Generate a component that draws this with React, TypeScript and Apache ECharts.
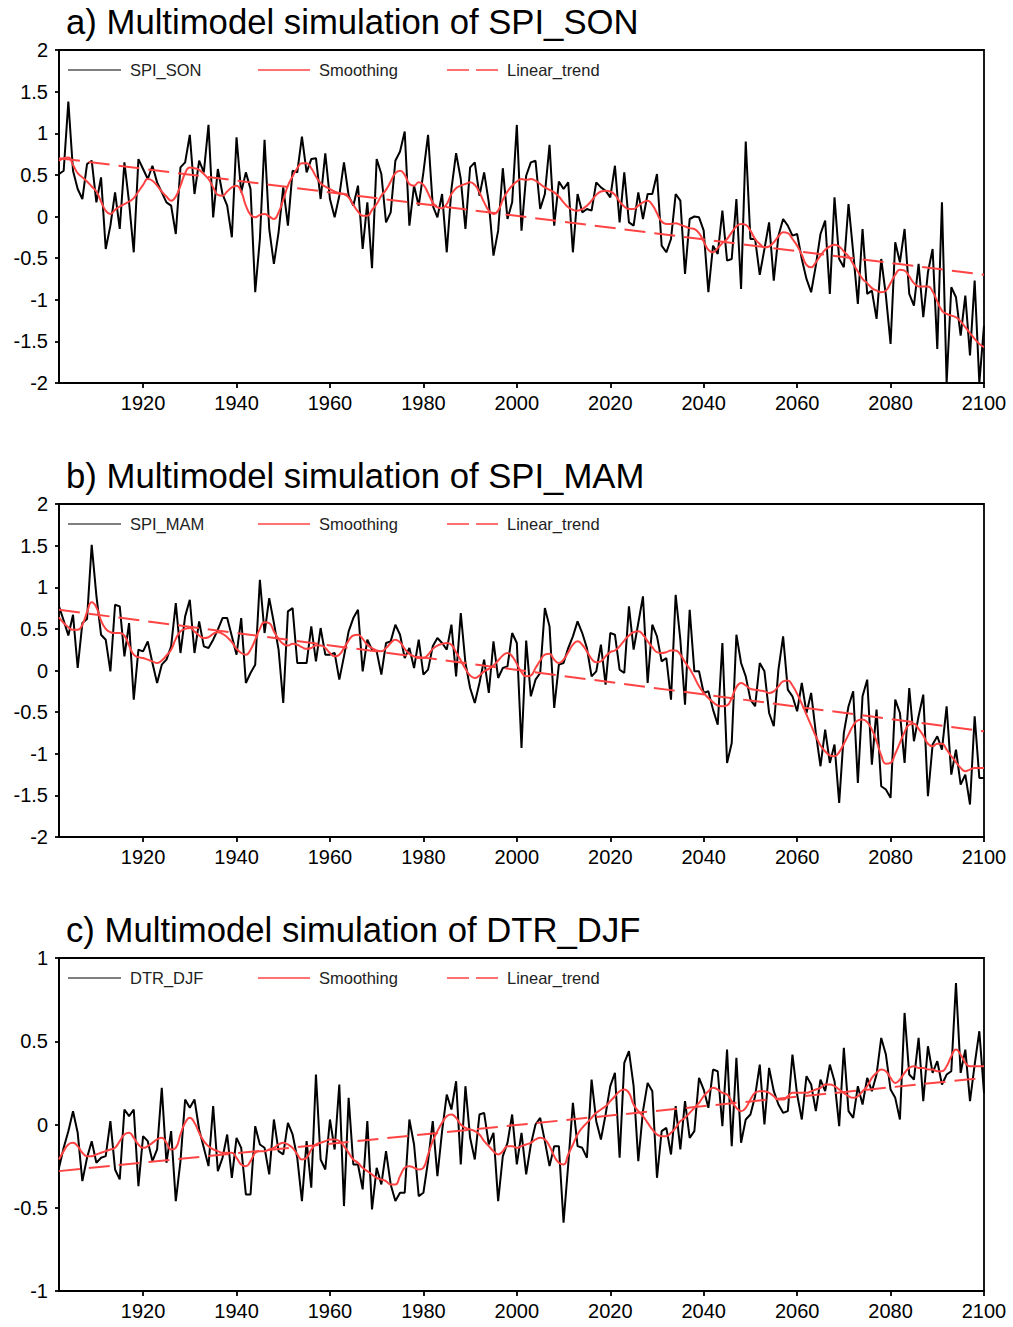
import React, { useEffect, useRef } from "react";
import * as echarts from "echarts";

const START_YEAR = 1902;
const END_YEAR = 2100;
const years: number[] = [];
for (let y = START_YEAR; y <= END_YEAR; y++) years.push(y);

const xTickYears = [1920, 1940, 1960, 1980, 2000, 2020, 2040, 2060, 2080, 2100];

// ---- a) SPI_SON ----
const spiSon = [
  0.51, 0.55, 1.38, 0.55, 0.33, 0.21, 0.63, 0.67,
  0.17, 0.47, -0.39, -0.11, 0.29, -0.15, 0.65, 0.17, -0.43, 0.69,
  0.57, 0.45, 0.61, 0.41, 0.29, 0.17, 0.13, -0.21, 0.59, 0.65,
  0.98, 0.27, 0.67, 0.53, 1.10, -0.01, 0.57, 0.27, 0.13, -0.25,
  0.95, 0.29, 0.53, 0.33, -0.91, -0.27, 0.92, -0.15, -0.57, -0.19,
  0.35, -0.11, 0.55, 0.53, 0.96, 0.53, 0.69, 0.70, 0.21, 0.76,
  0.21, -0.01, 0.25, 0.65, 0.25, 0.13, 0.37, -0.39, 0.17, -0.62,
  0.69, 0.51, -0.07, 0.05, 0.67, 0.78, 1.02, -0.11, 0.37, 0.13,
  0.53, 0.98, 0.13, -0.01, 0.27, -0.43, 0.33, 0.76, 0.45, -0.15,
  0.59, 0.65, 0.25, 0.53, 0.17, -0.47, -0.17, 0.58, -0.03, 0.17,
  1.10, -0.17, 0.49, 0.65, 0.67, 0.09, 0.27, 0.86, -0.11, 0.42,
  0.33, 0.41, -0.43, 0.27, 0.05, 0.09, 0.07, 0.41, 0.35, 0.31,
  0.23, 0.61, -0.07, 0.53, -0.07, -0.11, 0.29, -0.03, 0.27, 0.27,
  0.51, -0.35, -0.43, -0.27, 0.27, 0.19, -0.69, -0.03, 0.00, -0.01,
  -0.17, -0.91, -0.35, -0.45, 0.07, -0.53, -0.51, 0.21, -0.87, 0.90,
  -0.27, -0.27, -0.70, -0.39, -0.07, -0.77, -0.23, -0.03, -0.11, -0.23,
  -0.21, -0.51, -0.75, -0.91, -0.59, -0.21, -0.05, -0.93, 0.23, -0.51,
  -0.61, 0.15, -0.43, -1.05, -0.15, -0.93, -0.89, -1.23, -0.51, -0.95,
  -1.53, -0.31, -0.55, -0.15, -0.93, -1.07, -0.57, -1.21, -0.67, -0.39,
  -1.59, 0.17, -2.0, -0.85, -0.97, -1.43, -0.95, -1.67, -0.77, -2.0,
  -1.31,
];
const spiSonSmooth = [
  0.67, 0.70, 0.71, 0.62, 0.52, 0.47, 0.42, 0.36,
  0.30, 0.18, 0.07, 0.03, 0.08, 0.12, 0.15, 0.18, 0.22, 0.30,
  0.38, 0.45, 0.43, 0.37, 0.30, 0.24, 0.19, 0.24, 0.37, 0.52,
  0.59, 0.58, 0.56, 0.51, 0.45, 0.35, 0.26, 0.25, 0.30, 0.35,
  0.37, 0.30, 0.13, 0.02, -0.01, 0.02, 0.03, 0.00, -0.03, 0.05,
  0.20, 0.37, 0.48, 0.58, 0.64, 0.64, 0.58, 0.48, 0.40, 0.36,
  0.33, 0.30, 0.28, 0.27, 0.23, 0.14, 0.06, 0.01, 0.01, 0.08,
  0.15, 0.25, 0.32, 0.42, 0.52, 0.55, 0.50, 0.39, 0.37, 0.41,
  0.38, 0.28, 0.17, 0.11, 0.10, 0.15, 0.27, 0.34, 0.37, 0.39,
  0.41, 0.38, 0.29, 0.17, 0.07, 0.03, 0.07, 0.20, 0.30, 0.37,
  0.42, 0.45, 0.44, 0.45, 0.43, 0.39, 0.35, 0.32, 0.29, 0.24,
  0.17, 0.11, 0.08, 0.07, 0.09, 0.13, 0.19, 0.26, 0.30, 0.31,
  0.30, 0.26, 0.18, 0.12, 0.09, 0.09, 0.13, 0.17, 0.19, 0.14,
  0.04, -0.06, -0.09, -0.09, -0.08, -0.10, -0.12, -0.14, -0.15, -0.20,
  -0.30, -0.40, -0.43, -0.38, -0.32, -0.27, -0.19, -0.12, -0.09, -0.10,
  -0.17, -0.27, -0.33, -0.37, -0.36, -0.31, -0.24, -0.19, -0.20, -0.27,
  -0.35, -0.46, -0.58, -0.61, -0.55, -0.47, -0.40, -0.36, -0.34, -0.36,
  -0.42, -0.48, -0.57, -0.66, -0.75, -0.80, -0.86, -0.89, -0.91, -0.89,
  -0.80, -0.70, -0.64, -0.65, -0.72, -0.80, -0.84, -0.84, -0.84, -0.90,
  -1.02, -1.13, -1.17, -1.19, -1.21, -1.26, -1.33, -1.40, -1.47, -1.53,
  -1.57,
];
const spiSonTrend = [0.70, -0.70];

// ---- b) SPI_MAM ----
const spiMam = [
  0.77, 0.60, 0.42, 0.67, 0.03, 0.57, 0.62, 1.51,
  0.90, 0.43, 0.37, -0.01, 0.79, 0.77, 0.17, 0.57, -0.35, 0.25,
  0.23, 0.35, 0.09, -0.15, 0.07, 0.13, 0.29, 0.81, 0.21, 0.65,
  0.85, 0.21, 0.59, 0.29, 0.27, 0.37, 0.49, 0.63, 0.63, 0.41,
  0.19, 0.63, -0.15, -0.03, 0.07, 1.09, 0.45, 0.87, 0.57, 0.25,
  -0.39, 0.71, 0.75, 0.09, 0.09, 0.09, 0.53, 0.11, 0.51, 0.19,
  0.19, 0.21, -0.11, 0.17, 0.47, 0.63, 0.73, -0.01, 0.37, 0.25,
  0.23, -0.05, 0.33, 0.35, 0.55, 0.43, 0.15, 0.27, 0.03, 0.37,
  -0.05, 0.01, 0.29, 0.39, 0.33, 0.25, 0.55, -0.07, 0.69, 0.09,
  -0.21, -0.39, -0.15, 0.13, -0.27, 0.35, -0.09, 0.03, 0.05, 0.45,
  0.33, -0.93, 0.36, -0.31, -0.11, -0.03, 0.75, 0.53, -0.45, 0.07,
  0.09, 0.27, 0.41, 0.59, 0.45, 0.27, -0.07, -0.01, 0.31, -0.17,
  0.45, 0.43, 0.01, -0.03, 0.77, 0.25, 0.57, 0.89, -0.15, 0.55,
  0.41, 0.11, 0.15, -0.35, 0.91, 0.37, -0.41, 0.73, -0.01, -0.01,
  -0.27, -0.25, -0.47, -0.65, 0.33, -1.11, -0.87, 0.43, 0.09, -0.07,
  -0.35, -0.43, 0.09, -0.01, -0.51, -0.67, 0.01, 0.41, -0.23, -0.31,
  -0.49, -0.15, -0.51, -0.27, -0.75, -1.15, -0.71, -1.11, -0.89, -1.59,
  -0.75, -0.43, -0.25, -1.35, -0.31, -0.11, -1.13, -0.47, -1.39, -1.43,
  -1.53, -0.35, -0.51, -1.11, -0.21, -0.85, -0.55, -0.29, -1.51, -0.89,
  -0.79, -0.95, -0.43, -1.25, -0.95, -1.37, -1.25, -1.61, -0.55, -1.29,
  -1.29,
];
const spiMamSmooth = [
  0.64, 0.57, 0.52, 0.49, 0.49, 0.55, 0.70, 0.82,
  0.76, 0.60, 0.50, 0.46, 0.45, 0.45, 0.42, 0.30, 0.19, 0.16,
  0.15, 0.13, 0.11, 0.09, 0.12, 0.18, 0.25, 0.38, 0.47, 0.50,
  0.51, 0.47, 0.42, 0.39, 0.40, 0.44, 0.46, 0.44, 0.40, 0.34,
  0.26, 0.21, 0.19, 0.25, 0.37, 0.50, 0.58, 0.57, 0.47, 0.38,
  0.32, 0.30, 0.32, 0.31, 0.28, 0.26, 0.27, 0.30, 0.30, 0.27,
  0.21, 0.17, 0.19, 0.27, 0.36, 0.42, 0.43, 0.38, 0.31, 0.27,
  0.24, 0.23, 0.27, 0.33, 0.37, 0.34, 0.26, 0.20, 0.17, 0.15,
  0.15, 0.19, 0.26, 0.30, 0.32, 0.33, 0.31, 0.22, 0.12, 0.02,
  -0.06, -0.09, -0.06, -0.01, 0.02, 0.06, 0.12, 0.18, 0.21, 0.17,
  0.08, -0.02, -0.07, -0.06, 0.03, 0.12, 0.19, 0.20, 0.13, 0.09,
  0.13, 0.22, 0.31, 0.35, 0.31, 0.23, 0.14, 0.10, 0.11, 0.17,
  0.22, 0.24, 0.29, 0.36, 0.42, 0.46, 0.47, 0.43, 0.35, 0.28,
  0.22, 0.21, 0.22, 0.24, 0.24, 0.19, 0.10, 0.02, -0.08, -0.19,
  -0.27, -0.33, -0.38, -0.42, -0.43, -0.42, -0.33, -0.20, -0.15, -0.18,
  -0.22, -0.23, -0.24, -0.25, -0.27, -0.25, -0.19, -0.13, -0.12, -0.18,
  -0.28, -0.40, -0.53, -0.66, -0.79, -0.90, -0.97, -1.02, -1.03, -0.98,
  -0.88, -0.77, -0.66, -0.60, -0.59, -0.62, -0.71, -0.85, -1.02, -1.12,
  -1.11, -1.00, -0.87, -0.74, -0.65, -0.64, -0.70, -0.78, -0.88, -0.91,
  -0.88, -0.88, -0.95, -1.03, -1.10, -1.17, -1.21, -1.19, -1.17, -1.17,
  -1.17,
];
const spiMamTrend = [0.73, -0.73];

// ---- c) DTR_DJF ----
const dtrDjf = [
  -0.26, -0.14, -0.04, 0.08, -0.05, -0.34, -0.20, -0.10,
  -0.23, -0.20, -0.19, 0.02, -0.27, -0.33, 0.09, 0.05, 0.09, -0.37,
  -0.07, -0.10, -0.22, -0.15, 0.22, -0.23, -0.04, -0.46, -0.22, 0.15,
  0.10, 0.15, -0.03, -0.14, -0.25, 0.11, -0.28, -0.20, -0.06, -0.32,
  -0.08, -0.14, -0.42, -0.42, -0.01, -0.12, -0.14, -0.30, 0.03, -0.16,
  -0.18, 0.01, -0.06, -0.20, -0.46, -0.10, -0.38, 0.30, -0.21, -0.27,
  0.03, -0.15, 0.24, -0.49, 0.16, -0.24, -0.24, -0.39, 0.02, -0.51,
  -0.26, -0.36, -0.16, -0.36, -0.46, -0.41, -0.41, 0.03, -0.12, -0.43,
  -0.41, -0.22, 0.02, -0.31, -0.04, 0.18, 0.09, 0.26, -0.24, 0.23,
  -0.08, -0.21, 0.06, 0.07, -0.12, -0.05, -0.46, -0.19, -0.11, 0.06,
  -0.24, -0.05, -0.30, -0.12, 0.00, 0.04, -0.10, -0.25, -0.13, -0.13,
  -0.59, -0.24, 0.13, -0.13, -0.14, -0.20, 0.27, 0.02, -0.09, 0.06,
  0.23, 0.31, -0.20, 0.37, 0.44, 0.23, -0.22, 0.08, 0.25, 0.20,
  -0.32, -0.04, -0.02, -0.18, 0.11, -0.15, 0.14, -0.08, -0.04, 0.28,
  0.21, 0.10, 0.33, 0.32, -0.01, 0.45, -0.13, 0.40, -0.11, 0.03,
  0.06, 0.17, 0.36, 0.00, 0.34, 0.20, 0.12, 0.07, 0.08, 0.42,
  0.18, 0.03, 0.29, 0.24, 0.08, 0.27, 0.20, 0.36, 0.26, -0.01,
  0.46, 0.08, 0.04, 0.23, 0.12, 0.28, 0.20, 0.30, 0.52, 0.42,
  0.21, 0.16, 0.03, 0.67, 0.30, 0.27, 0.52, 0.14, 0.47, 0.31,
  0.38, 0.24, 0.30, 0.32, 0.85, 0.31, 0.45, 0.14, 0.36, 0.56,
  0.19,
];
const dtrDjfSmooth = [
  -0.21, -0.16, -0.12, -0.11, -0.13, -0.17, -0.19, -0.19,
  -0.18, -0.17, -0.16, -0.15, -0.14, -0.10, -0.06, -0.05, -0.08, -0.12,
  -0.14, -0.13, -0.11, -0.09, -0.08, -0.11, -0.15, -0.14, -0.06, 0.01,
  0.04, 0.01, -0.05, -0.10, -0.13, -0.15, -0.16, -0.17, -0.17, -0.17,
  -0.20, -0.24, -0.25, -0.22, -0.17, -0.16, -0.16, -0.15, -0.14, -0.12,
  -0.11, -0.12, -0.14, -0.18, -0.21, -0.20, -0.15, -0.12, -0.11, -0.10,
  -0.09, -0.09, -0.10, -0.13, -0.17, -0.21, -0.23, -0.26, -0.28, -0.30,
  -0.32, -0.33, -0.34, -0.36, -0.36, -0.31, -0.26, -0.25, -0.26, -0.27,
  -0.26, -0.18, -0.10, -0.04, 0.01, 0.05, 0.06, 0.04, 0.00, -0.02,
  -0.03, -0.04, -0.06, -0.10, -0.13, -0.16, -0.18, -0.16, -0.13, -0.13,
  -0.14, -0.13, -0.12, -0.11, -0.09, -0.08, -0.09, -0.13, -0.19, -0.23,
  -0.24, -0.18, -0.12, -0.06, -0.02, 0.01, 0.04, 0.07, 0.09, 0.11,
  0.14, 0.17, 0.20, 0.21, 0.19, 0.12, 0.08, 0.05, 0.01, -0.03,
  -0.06, -0.07, -0.07, -0.05, -0.02, 0.02, 0.04, 0.07, 0.10, 0.13,
  0.17, 0.20, 0.22, 0.21, 0.19, 0.18, 0.14, 0.10, 0.08, 0.10,
  0.15, 0.19, 0.20, 0.20, 0.19, 0.17, 0.15, 0.15, 0.17, 0.19,
  0.19, 0.19, 0.19, 0.20, 0.21, 0.22, 0.24, 0.24, 0.23, 0.21,
  0.19, 0.17, 0.16, 0.17, 0.20, 0.23, 0.28, 0.31, 0.33, 0.32,
  0.28, 0.25, 0.27, 0.31, 0.34, 0.35, 0.34, 0.34, 0.33, 0.33,
  0.32, 0.32, 0.35, 0.41, 0.45, 0.42, 0.37, 0.35, 0.35, 0.35,
  0.35,
];
const dtrDjfTrend = [-0.28, 0.28];

const panels = [
  { title: "a) Multimodel simulation of SPI_SON", name: "SPI_SON", raw: spiSon, smooth: spiSonSmooth, trend: spiSonTrend, yMin: -2, yMax: 2 },
  { title: "b) Multimodel simulation of SPI_MAM", name: "SPI_MAM", raw: spiMam, smooth: spiMamSmooth, trend: spiMamTrend, yMin: -2, yMax: 2 },
  { title: "c) Multimodel simulation of DTR_DJF", name: "DTR_DJF", raw: dtrDjf, smooth: dtrDjfSmooth, trend: dtrDjfTrend, yMin: -1, yMax: 1 },
];

const FONT = "'Liberation Sans', Arial, Helvetica, sans-serif";
const RED = "#ff4343";
const GRID_LEFT = 59;
const GRID_WIDTH = 925;
const GRID_TOPS = [50, 504, 958];
const GRID_HEIGHT = 333;

export default function App() {
  const ref = useRef<HTMLDivElement>(null);

  useEffect(() => {
    if (!ref.current) return;
    const chart = echarts.init(ref.current, undefined, { renderer: "svg" });

    const axisLineStyle = { color: "#000", width: 1.8 };

    const option: any = {
      animation: false,
      backgroundColor: "#fff",
      title: panels.map((p, i) => ({
        text: p.title,
        left: 66,
        top: GRID_TOPS[i] - 47,
        padding: 0,
        textStyle: { fontSize: 34.7, fontWeight: "normal", color: "#000", fontFamily: FONT, lineHeight: 38 },
      })),
      grid: panels.map((_, i) => ({
        left: GRID_LEFT,
        top: GRID_TOPS[i],
        width: GRID_WIDTH,
        height: GRID_HEIGHT,
        show: true,
        borderColor: "#000",
        borderWidth: 1.8,
        backgroundColor: "transparent",
      })),
      xAxis: panels.map((_, i) => ({
        type: "value",
        gridIndex: i,
        min: START_YEAR,
        max: END_YEAR,
        axisLine: { show: true, onZero: false, lineStyle: axisLineStyle },
        axisTick: { show: true, inside: false, length: 5, customValues: xTickYears, lineStyle: axisLineStyle },
        axisLabel: {
          customValues: xTickYears,
          fontSize: 20,
          color: "#000",
          margin: 10,
          fontFamily: FONT,
          formatter: (v: number) => String(Math.round(v)),
        },
        splitLine: { show: false },
      })),
      yAxis: panels.map((p, i) => ({
        type: "value",
        gridIndex: i,
        min: p.yMin,
        max: p.yMax,
        interval: 0.5,
        axisLine: { show: true, onZero: false, lineStyle: axisLineStyle },
        axisTick: { show: true, inside: false, length: 4, lineStyle: axisLineStyle },
        axisLabel: { fontSize: 20, color: "#000", margin: 11, fontFamily: FONT, formatter: (v: number) => String(v) },
        splitLine: { show: false },
      })),
      series: panels.flatMap((p, i) => [
        {
          name: p.name,
          type: "line",
          xAxisIndex: i,
          yAxisIndex: i,
          data: years.map((y, k) => [y, p.raw[k]]),
          showSymbol: false,
          lineStyle: { color: "#000", width: 2 },
          z: 2,
        },
        {
          name: "Smoothing",
          type: "line",
          xAxisIndex: i,
          yAxisIndex: i,
          data: years.map((y, k) => [y, p.smooth[k]]),
          showSymbol: false,
          smooth: true,
          lineStyle: { color: RED, width: 2 },
          z: 3,
        },
        {
          name: "Linear_trend",
          type: "line",
          xAxisIndex: i,
          yAxisIndex: i,
          data: [[START_YEAR, p.trend[0]], [END_YEAR, p.trend[1]]],
          showSymbol: false,
          lineStyle: { color: RED, width: 2, type: [21, 9] },
          z: 4,
        },
      ]),
      graphic: panels.flatMap((p, i) => {
        const y = GRID_TOPS[i] + 20;
        const txt = (x: number, t: string) => ({
          type: "text",
          x,
          y,
          style: { text: t, fontSize: 16.5, fill: "#222", fontFamily: FONT, textVerticalAlign: "middle", verticalAlign: "middle" },
          z: 10,
        });
        return [
          { type: "line", shape: { x1: 68, y1: y, x2: 121, y2: y }, style: { stroke: "#000", lineWidth: 1.2 }, z: 10 },
          txt(130, p.name),
          { type: "line", shape: { x1: 258, y1: y, x2: 310, y2: y }, style: { stroke: RED, lineWidth: 1.5 }, z: 10 },
          txt(319, "Smoothing"),
          { type: "line", shape: { x1: 447, y1: y, x2: 498, y2: y }, style: { stroke: RED, lineWidth: 1.5, lineDash: [22, 7] }, z: 10 },
          txt(507, "Linear_trend"),
        ];
      }),
    };

    chart.setOption(option);
    return () => chart.dispose();
  }, []);

  return (
    <div
      ref={ref}
      style={{ position: "absolute", left: 0, top: 0, width: 1013, height: 1327, background: "#fff" }}
    />
  );
}
